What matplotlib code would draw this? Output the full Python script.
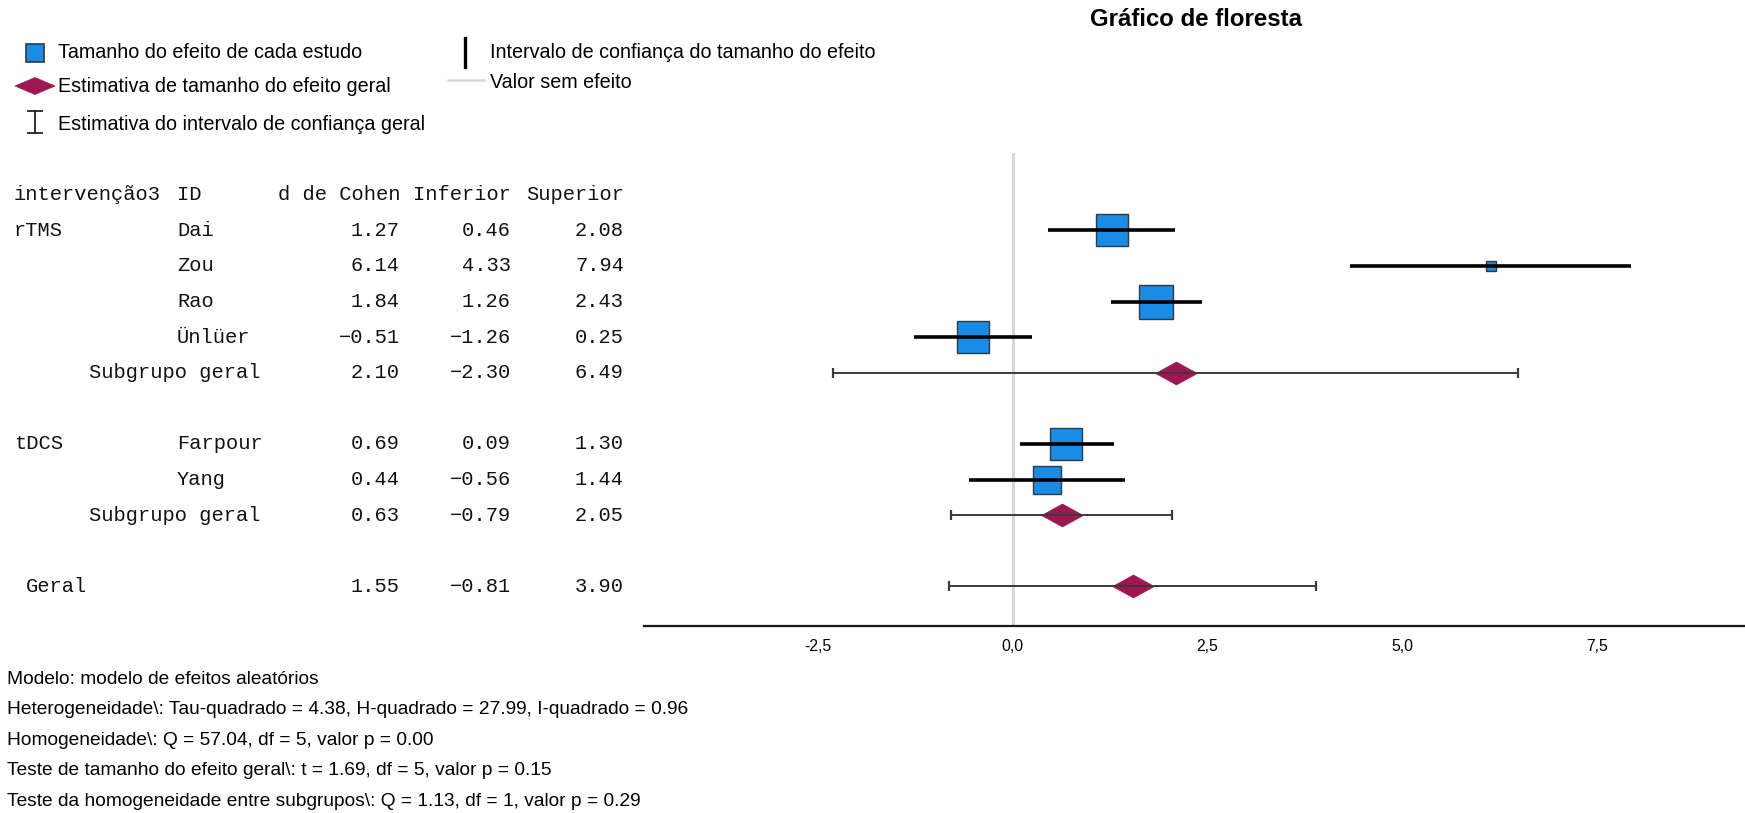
import numpy as np
import matplotlib
matplotlib.use("Agg")
import matplotlib.pyplot as plt
from matplotlib.path import Path
from matplotlib.lines import Line2D
from matplotlib.transforms import blended_transform_factory

# ---- data -------------------------------------------------------------
groups = ["rTMS", "tDCS"]
study_group = ["rTMS", "rTMS", "rTMS", "rTMS", "tDCS", "tDCS"]
study_ids = ["Dai", "Zou", "Rao", "Ünlüer", "Farpour", "Yang"]
study_d = [1.27, 6.14, 1.84, -0.51, 0.69, 0.44]
study_lo = [0.46, 4.33, 1.26, -1.26, 0.09, -0.56]
study_hi = [2.08, 7.94, 2.43, 0.25, 1.30, 1.44]
study_weight = [19.7, 2.3, 22.2, 19.7, 21.0, 15.1]   # relative weight (%)

subgroup_d = [2.10, 0.63]
subgroup_lo = [-2.30, -0.79]
subgroup_hi = [6.49, 2.05]

overall_d = 1.55
overall_lo = -0.81
overall_hi = 3.90

x_ticks = [-2.5, 0.0, 2.5, 5.0, 7.5]

footer_lines = [
    "Modelo: modelo de efeitos aleatórios",
    "Heterogeneidade\\: Tau-quadrado = 4.38, H-quadrado = 27.99, I-quadrado = 0.96",
    "Homogeneidade\\: Q = 57.04, df = 5, valor p = 0.00",
    "Teste de tamanho do efeito geral\\: t = 1.69, df = 5, valor p = 0.15",
    "Teste da homogeneidade entre subgrupos\\: Q = 1.13, df = 1, valor p = 0.29",
]

# ---- figure setup -----------------------------------------------------
W, H = 1745, 813
DPI = 100
fig = plt.figure(figsize=(W / DPI, H / DPI), dpi=DPI)
renderer = fig.canvas.get_renderer()

SANS = "Liberation Sans"
MONO = "Liberation Mono"
BLUE = "#1a8ce6"
BOX_EDGE = "#2e3a44"
WINE = "#9d1853"
ZERO_GRAY = "#d6d6d6"


def fit_size(text, target_px, family, weight="normal", base=10.0):
    t = fig.text(0, 0, text, fontsize=base, family=family, weight=weight)
    w = t.get_window_extent(renderer).width
    t.remove()
    return base * target_px / w


# layout of the forest panel (pixels from the top-left corner)
ax_left, ax_right, ax_top, ax_bottom = 644, 1745, 153, 626
ax = fig.add_axes([ax_left / W, 1 - ax_bottom / H,
                   (ax_right - ax_left) / W, (ax_bottom - ax_top) / H])

# row layout: one row per line of the table
y = 0
study_rows = []
subgroup_rows = []
for g in groups:
    first = True
    for i, sg in enumerate(study_group):
        if sg != g:
            continue
        study_rows.append((i, y, g if first else ""))
        first = False
        y += 1
    subgroup_rows.append((groups.index(g), y))
    y += 2
overall_row = y

ax.set_ylim(11.11, -2.17)
ax.set_xlim(-4.73, 9.40)

# no-effect reference line
ax.axvline(0, color=ZERO_GRAY, lw=2.2, zorder=1)

# individual studies: box + CI line
for i, yy, _ in study_rows:
    side_px = 72 * np.sqrt(study_weight[i] / 100.0)
    ax.plot(study_d[i], yy, marker="s", ms=side_px * 0.72, mfc=BLUE,
            mec=BOX_EDGE, mew=1.0, ls="none", zorder=3)
    ax.hlines(yy, study_lo[i], study_hi[i], color="black", lw=2.6, zorder=4)

# summary diamonds
diamond = Path([(-1, 0), (0, 0.55), (1, 0), (0, -0.55), (-1, 0)],
               [Path.MOVETO, Path.LINETO, Path.LINETO, Path.LINETO, Path.CLOSEPOLY])


def summary(d, lo, hi, yy):
    ax.plot(d, yy, marker=diamond, ms=30, mfc=WINE, mec=WINE, mew=0.5,
            ls="none", zorder=3)
    ax.errorbar(d, yy, xerr=[[d - lo], [hi - d]], fmt="none", ecolor="#3a3a3a",
                elinewidth=1.4, capsize=3.3, capthick=1.6, zorder=4)


for gi, yy in subgroup_rows:
    summary(subgroup_d[gi], subgroup_lo[gi], subgroup_hi[gi], yy)
summary(overall_d, overall_lo, overall_hi, overall_row)

# axis styling
for s in ["top", "right", "left"]:
    ax.spines[s].set_visible(False)
ax.spines["bottom"].set_linewidth(1.6)
ax.spines["bottom"].set_color("#1a1a1a")
ax.set_yticks([])
ax.set_xticks(x_ticks)
ax.set_xticklabels([f"{v:.1f}".replace(".", ",") for v in x_ticks],
                   family=SANS, fontsize=11.3)
ax.tick_params(axis="x", length=0, pad=9)
ax.patch.set_alpha(0)

# ---- table to the left of the panel -----------------------------------
tr = blended_transform_factory(fig.transFigure, ax.transData)
mono_fs = 12.25 / 0.6 * 72 / DPI


def cell(xpx, yy, s, ha="left"):
    ax.text(xpx / W, yy, s, transform=tr, ha=ha, va="center", family=MONO,
            fontsize=mono_fs, color="#111111", clip_on=False)


cell(14, -1, "intervenção3")
cell(177, -1, "ID")
cell(400, -1, "d de Cohen", ha="right")
cell(511, -1, "Inferior", ha="right")
cell(624, -1, "Superior", ha="right")


def nums(yy, d, lo, hi):
    cell(400, yy, f"{d:.2f}".replace("-", "\u2212"), ha="right")
    cell(511, yy, f"{lo:.2f}".replace("-", "\u2212"), ha="right")
    cell(624, yy, f"{hi:.2f}".replace("-", "\u2212"), ha="right")


for i, yy, glabel in study_rows:
    if glabel:
        cell(14, yy, glabel)
    cell(177, yy, study_ids[i])
    nums(yy, study_d[i], study_lo[i], study_hi[i])
for gi, yy in subgroup_rows:
    cell(89, yy, "Subgrupo geral")
    nums(yy, subgroup_d[gi], subgroup_lo[gi], subgroup_hi[gi])
cell(26, overall_row, "Geral")
nums(overall_row, overall_d, overall_lo, overall_hi)

# ---- overlay in pixel coordinates for title, key and notes ------------
ov = fig.add_axes([0, 0, 1, 1])
ov.set_xlim(0, W)
ov.set_ylim(H, 0)
ov.axis("off")
ov.patch.set_alpha(0)

title = "Gráfico de floresta"
ov.text(1196, 20, title, ha="center", va="center", family=SANS, weight="bold",
        fontsize=fit_size(title, 212, SANS, "bold"))

key_fs = fit_size("Intervalo de confiança do tamanho do efeito", 387, SANS)

# key: study box
ov.add_patch(plt.Rectangle((26, 44), 18, 18, facecolor=BLUE, edgecolor=BOX_EDGE, lw=1.2))
ov.text(58, 53, "Tamanho do efeito de cada estudo", va="center", family=SANS, fontsize=key_fs)
# key: summary diamond
ov.add_patch(plt.Polygon([(15, 86), (35, 77.5), (55, 86), (35, 94.5)], closed=True,
                         facecolor=WINE, edgecolor=WINE, lw=0.5))
ov.text(58, 86, "Estimativa de tamanho do efeito geral", va="center", family=SANS, fontsize=key_fs)
# key: overall CI bracket
ov.add_line(Line2D([35, 35], [111, 133], color="#222222", lw=1.3))
ov.add_line(Line2D([28, 42], [111, 111], color="#222222", lw=1.3))
ov.add_line(Line2D([28, 42], [133, 133], color="#222222", lw=1.3))
ov.text(58, 124, "Estimativa do intervalo de confiança geral", va="center", family=SANS, fontsize=key_fs)
# key: study CI line
ov.add_line(Line2D([465, 465], [38, 67], color="black", lw=2.4))
ov.text(490, 53, "Intervalo de confiança do tamanho do efeito", va="center", family=SANS, fontsize=key_fs)
# key: no-effect line
ov.add_line(Line2D([448, 484], [80, 80], color=ZERO_GRAY, lw=1.8))
ov.text(490, 83, "Valor sem efeito", va="center", family=SANS, fontsize=key_fs)

# model notes
note_fs = fit_size(footer_lines[1], 684, SANS)
for k, line in enumerate(footer_lines):
    ov.text(7, 679 + k * 30.5, line, va="center", family=SANS, fontsize=note_fs)

fig.savefig("out.png", dpi=DPI)
